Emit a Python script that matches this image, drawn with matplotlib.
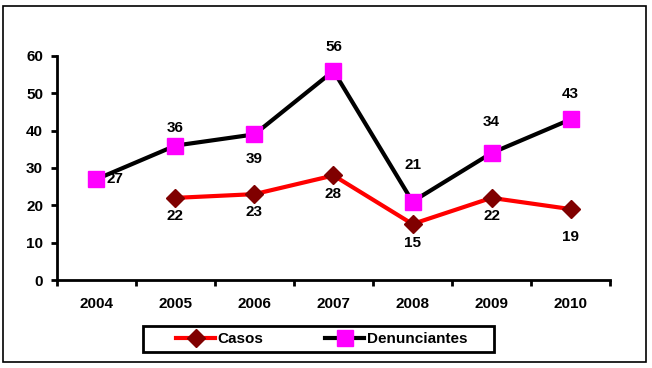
import matplotlib
matplotlib.use("Agg")
from matplotlib import pyplot as plt
from matplotlib.patches import Rectangle
import numpy as np

plt.rcParams['font.family'] = ['Liberation Sans', 'DejaVu Sans']
plt.rcParams['font.weight'] = 'bold'

years = ['2004', '2005', '2006', '2007', '2008', '2009', '2010']
casos_years = ['2005', '2006', '2007', '2008', '2009', '2010']
casos = [22, 23, 28, 15, 22, 19]
denunciantes = [27, 36, 39, 56, 21, 34, 43]

# label offsets in points (dx, dy)
den_off = [(13, 0), (0, 13), (0, -18), (0, 17), (0, 26), (0, 22), (0, 18)]
cas_off = [(0, -13), (0, -13), (0, -13), (0, -14), (0, -13), (0, -20)]

x_all = np.arange(len(years))
x_cas = [years.index(y) for y in casos_years]

fs = 11

fig = plt.figure(figsize=(6.52, 3.68), dpi=100)
ax = fig.add_axes([0.0874, 0.239, 0.8482, 0.609])

ax.plot(x_cas, casos, color='#FF0000', linewidth=3, marker='D', markersize=9,
        markerfacecolor='#800000', markeredgecolor='#800000', label='Casos', zorder=3)
ax.plot(x_all, denunciantes, color='black', linewidth=3, marker='s', markersize=11.5,
        markerfacecolor='#FF00FF', markeredgecolor='#FF00FF', label='Denunciantes', zorder=4)

for xi, v, (dx, dy) in zip(x_all, denunciantes, den_off):
    ax.annotate(str(v), (xi, v), xytext=(dx, dy), textcoords='offset points',
                ha='center', va='center', fontsize=fs, fontweight='bold')
for xi, v, (dx, dy) in zip(x_cas, casos, cas_off):
    ax.annotate(str(v), (xi, v), xytext=(dx, dy), textcoords='offset points',
                ha='center', va='center', fontsize=fs, fontweight='bold')

ax.set_xlim(-0.5, len(years) - 0.5)
ax.set_ylim(0, 60)
ax.set_yticks(range(0, 61, 10))
ax.set_xticks(x_all)
ax.set_xticklabels(years)
ax.set_xticks(np.arange(-0.5, len(years), 1), minor=True)
ax.tick_params(axis='x', which='major', length=0, pad=12, labelsize=fs)
ax.tick_params(axis='x', which='minor', length=4, width=2, direction='out')
ax.tick_params(axis='y', length=4, width=2, direction='out', pad=6, labelsize=fs)
for s in ['top', 'right']:
    ax.spines[s].set_visible(False)
for s in ['left', 'bottom']:
    ax.spines[s].set_linewidth(2)
ax.patch.set_alpha(0)

# legend without its own frame, box drawn separately
leg = fig.legend(loc='center', bbox_to_anchor=(321.5 / 652, 1 - 339 / 368), ncol=2, fontsize=fs,
                 frameon=False, handlelength=2.6, handletextpad=0.15,
                 columnspacing=4.0, borderpad=0, borderaxespad=0)
fig.patches.append(Rectangle((143 / 652, 1 - 352 / 368), 351 / 652, 26 / 368,
                             transform=fig.transFigure, fill=False, edgecolor='black',
                             linewidth=2))

fig.patches.append(Rectangle((3 / 652, 6 / 368), 643 / 652, 356 / 368, transform=fig.transFigure,
                             fill=False, edgecolor='black', linewidth=1.2))

fig.savefig('out.png', dpi=100)
